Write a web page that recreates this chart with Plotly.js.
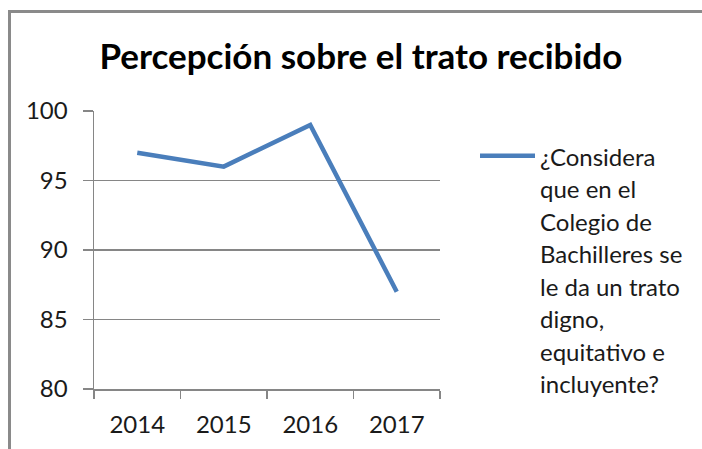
<!DOCTYPE html>
<html>
<head>
<meta charset="utf-8">
<script src="https://cdn.plot.ly/plotly-3.0.1.min.js"></script>
<style>
  html, body { margin: 0; padding: 0; background: #ffffff; overflow: hidden; }
  #chart { width: 702px; height: 449px; }
</style>
</head>
<body>
<div id="chart"></div>
<script>
const years = ['2014', '2015', '2016', '2017'];
const values = [97, 96, 99, 87];
const seriesName = '¿Considera<br>que en el<br>Colegio de<br>Bachilleres se<br>le da un trato<br>digno,<br>equitativo e<br>incluyente?';
const chartTitle = 'Percepción sobre el trato recibido';
const yTicks = [80, 85, 90, 95, 100];

const FONT = 'Lato, "Open Sans", sans-serif';

// plot-area geometry, used only to place the outer chart frame
const W = 702, H = 449, ML = 94, MR = 262, MT = 111, MB = 60;
const PW = W - ML - MR, PH = H - MT - MB;
const px2x = p => (p - ML) / PW;
const py2y = p => (H - MB - p) / PH;

const trace = {
  x: years,
  y: values,
  type: 'scatter',
  mode: 'lines',
  name: '<span style="font-size:24px">' + seriesName + '</span>',
  line: { color: '#4a7ebb', width: 4.5 },
  hoverinfo: 'x+y'
};

const layout = {
  width: W,
  height: H,
  paper_bgcolor: '#ffffff',
  plot_bgcolor: 'rgba(0,0,0,0)',
  margin: { l: ML, r: MR, t: MT, b: MB },
  font: { family: FONT, color: '#1a1a1a' },
  title: {
    text: '<b>' + chartTitle + '</b>',
    font: { family: FONT, size: 35, color: '#000000' },
    xref: 'container', yref: 'container',
    x: 0.514, y: 1 - 57 / 449,
    xanchor: 'center', yanchor: 'middle'
  },
  xaxis: {
    type: 'category',
    range: [-0.5, 3.5],
    showline: true, linecolor: '#868686', linewidth: 1.5,
    ticks: 'outside', tickson: 'boundaries', ticklen: 8, tickcolor: '#868686', tickwidth: 1.5,
    ticklabelstandoff: 14,
    showgrid: false, zeroline: false,
    tickfont: { family: FONT, size: 24, color: '#1a1a1a' },
    fixedrange: true
  },
  yaxis: {
    range: [80, 100],
    tickvals: yTicks,
    ticktext: yTicks.map(String),
    showline: true, linecolor: '#868686', linewidth: 1.5,
    ticks: 'outside', ticklen: 10, tickcolor: '#868686', tickwidth: 1.5,
    ticklabelstandoff: 10,
    showgrid: true, gridcolor: '#868686', gridwidth: 1.5,
    zeroline: false,
    tickfont: { family: FONT, size: 24, color: '#1a1a1a' },
    fixedrange: true
  },
  shapes: [
    { type: 'line', xref: 'paper', yref: 'paper', layer: 'above',
      x0: px2x(9.5), x1: px2x(9.5), y0: py2y(10), y1: py2y(452),
      line: { color: '#8a8a8a', width: 3 } },
    { type: 'line', xref: 'paper', yref: 'paper', layer: 'above',
      x0: px2x(8), x1: px2x(705), y0: py2y(11.5), y1: py2y(11.5),
      line: { color: '#8a8a8a', width: 3 } }
  ],
  showlegend: true,
  legend: {
    x: 475 / 702, xref: 'container',
    y: 1 - 133 / 449, yref: 'container',
    xanchor: 'left', yanchor: 'top',
    valign: 'top',
    itemwidth: 55,
    maxheight: 449,
    font: { family: FONT, size: 25, color: '#1a1a1a' },
    bgcolor: 'rgba(0,0,0,0)',
    tracegroupgap: 0
  }
};

Plotly.newPlot('chart', [trace], layout, { staticPlot: true, displayModeBar: false });
</script>
</body>
</html>
